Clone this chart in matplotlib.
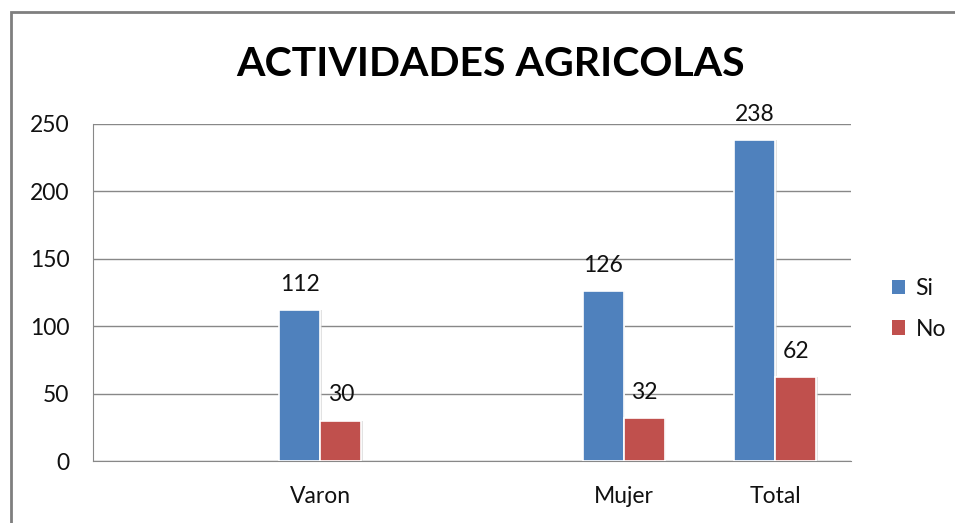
import matplotlib
matplotlib.use("Agg")
import matplotlib.pyplot as plt
from matplotlib.patches import Rectangle, Patch
import numpy as np

# data (blank categories keep the original spacing of the spreadsheet chart)
categories = ["", "Varon", "", "Mujer", "Total"]
si_values = [None, 112, None, 126, 238]
no_values = [None, 30, None, 32, 62]
series_names = ["Si", "No"]
y_ticks = [0, 50, 100, 150, 200, 250]

BLUE = "#4F81BD"
RED = "#C0504D"
GRID = "#888888"
TXT = "#111111"
FONT = ["Lato", "DejaVu Sans"]
FS = 16.5

plt.rcParams["font.family"] = FONT

fig = plt.figure(figsize=(9.55, 5.23), dpi=100)
ax = fig.add_axes([93/955, 62/523, (851-93)/955, (461-124)/523])

x = np.arange(len(categories))
w = 0.27
for vals, off, col in [(si_values, -w/2, BLUE), (no_values, w/2, RED)]:
    xs = [xi + off for xi, v in zip(x, vals) if v is not None]
    vs = [v for v in vals if v is not None]
    # soft shadow, then the bar itself
    ax.bar([p + 0.012 for p in xs], vs, width=w, color="#d0d0d0", zorder=2, alpha=0.6)
    ax.bar(xs, vs, width=w, color=col, edgecolor="white", linewidth=1.2, zorder=3)
    for p, v in zip(xs, vs):
        ax.annotate(str(v), (p, v), xytext=(0, 18.5), textcoords="offset points",
                    ha="center", va="center", fontsize=FS, color=TXT, zorder=4)

ax.set_xlim(-0.5, len(categories) - 0.5)
ax.set_ylim(0, 250)
ax.set_yticks(y_ticks)
ax.set_xticks(x)
ax.set_xticklabels(categories)
ax.yaxis.grid(True, color=GRID, lw=1.0, zorder=0)
ax.set_axisbelow(True)
for s in ["top", "right"]:
    ax.spines[s].set_visible(False)
ax.spines["left"].set_color(GRID)
ax.spines["bottom"].set_color(GRID)
ax.tick_params(axis="both", length=0, labelsize=FS, colors=TXT)
ax.tick_params(axis="y", pad=17)
ax.tick_params(axis="x", pad=18)

handles = [Patch(facecolor=BLUE, label=series_names[0]),
           Patch(facecolor=RED, label=series_names[1])]
fig.legend(handles=handles, loc="center left", bbox_to_anchor=(871/955, 1 - 309/523),
           frameon=False, fontsize=FS, handlelength=0.6, handleheight=0.6,
           handletextpad=0.45, labelspacing=0.85, labelcolor=TXT)

fig.text(491/955, 1 - 64/523, "ACTIVIDADES AGRICOLAS", ha="center", va="center",
         fontsize=29.5, fontweight="bold", color="black")

# outer chart frame
fig.patches.append(Rectangle((11/955, -0.01), 1.0, 1 - 12/523 + 0.01, transform=fig.transFigure,
                             fill=False, edgecolor="#7f7f7f", lw=2))

fig.savefig("out.png", dpi=100)
